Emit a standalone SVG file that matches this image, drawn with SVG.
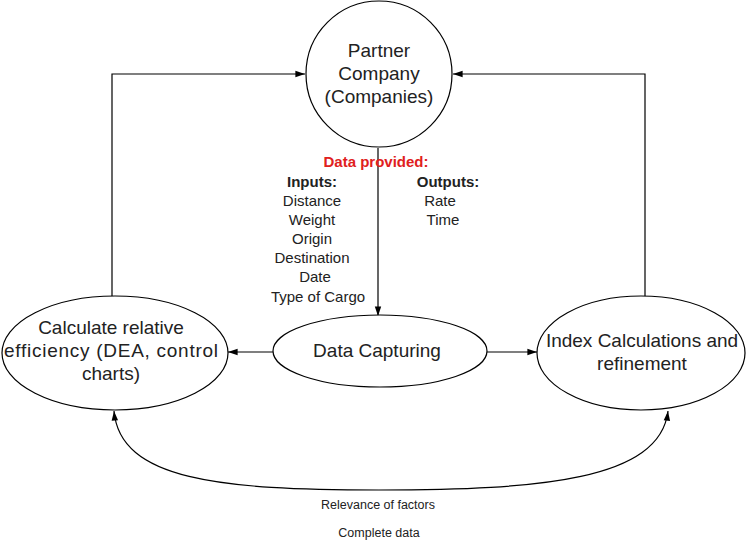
<svg xmlns="http://www.w3.org/2000/svg" width="747" height="544" viewBox="0 0 747 544">
<style>
.shape{fill:#fff;stroke:#000;stroke-width:1.2}
.line{fill:none;stroke:#000;stroke-width:1.2}
.node{font-family:"Liberation Sans",Arial,sans-serif;font-size:19px;fill:#222;text-anchor:middle}
.lbl{font-family:"Liberation Sans",Arial,sans-serif;font-size:15px;fill:#222;text-anchor:middle}
.b{font-weight:bold}
.red{fill:#e02020}
.small{font-family:"Liberation Sans",Arial,sans-serif;font-size:12.5px;fill:#222;text-anchor:middle}
</style>
<defs>
<marker id="arr" viewBox="0 0 12 10" refX="12" refY="5" markerWidth="11" markerHeight="8" markerUnits="userSpaceOnUse" orient="auto">
<path d="M0,1 L12,5 L0,9 Z" fill="#000"/>
</marker>
</defs>
<rect width="747" height="544" fill="#fff"/>
<g id="connectors">
<path class="line" d="M378,148 L378,316" marker-end="url(#arr)"/>
<path class="line" d="M274,352 L228,352" marker-end="url(#arr)"/>
<path class="line" d="M487,352 L537,352" marker-end="url(#arr)"/>
<path class="line" d="M112,298 L112,74 L305,74" marker-end="url(#arr)"/>
<path class="line" d="M645,298 L645,74 L453,74" marker-end="url(#arr)"/>
<path class="line" d="M379,490 C220,490 120,480 114,411" marker-end="url(#arr)"/>
<path class="line" d="M379,490 C540,490 660,480 668,411" marker-end="url(#arr)"/>
</g>
<g id="partner">
<ellipse class="shape" cx="379" cy="74" rx="73" ry="73"/>
<text class="node" x="379" y="57">Partner</text>
<text class="node" x="379" y="80">Company</text>
<text class="node" x="379" y="103">(Companies)</text>
</g>
<g id="capture">
<ellipse class="shape" cx="380" cy="351" rx="107" ry="36"/>
<text class="node" x="377" y="357">Data Capturing</text>
</g>
<g id="calc">
<ellipse class="shape" cx="115" cy="353" rx="113" ry="57"/>
<text class="node" x="111" y="334">Calculate relative</text>
<text class="node" x="111" y="357" textLength="214" lengthAdjust="spacing">efficiency (DEA, control</text>
<text class="node" x="111" y="380">charts)</text>
</g>
<g id="index">
<ellipse class="shape" cx="641" cy="353" rx="104" ry="57"/>
<text class="node" x="642" y="347">Index Calculations and</text>
<text class="node" x="642" y="370">refinement</text>
</g>
<g id="labels">
<text class="lbl b red" x="376" y="167">Data provided:</text>
<text class="lbl b" x="312" y="187">Inputs:</text>
<text class="lbl" x="312" y="206">Distance</text>
<text class="lbl" x="312" y="225">Weight</text>
<text class="lbl" x="312" y="244">Origin</text>
<text class="lbl" x="312" y="263">Destination</text>
<text class="lbl" x="315" y="282">Date</text>
<text class="lbl" x="318" y="302">Type of Cargo</text>
<text class="lbl b" x="448" y="187">Outputs:</text>
<text class="lbl" x="440" y="206">Rate</text>
<text class="lbl" x="443" y="225">Time</text>
<text class="small" x="378" y="509">Relevance of factors</text>
<text class="small" x="379" y="537">Complete data</text>
</g>
</svg>
